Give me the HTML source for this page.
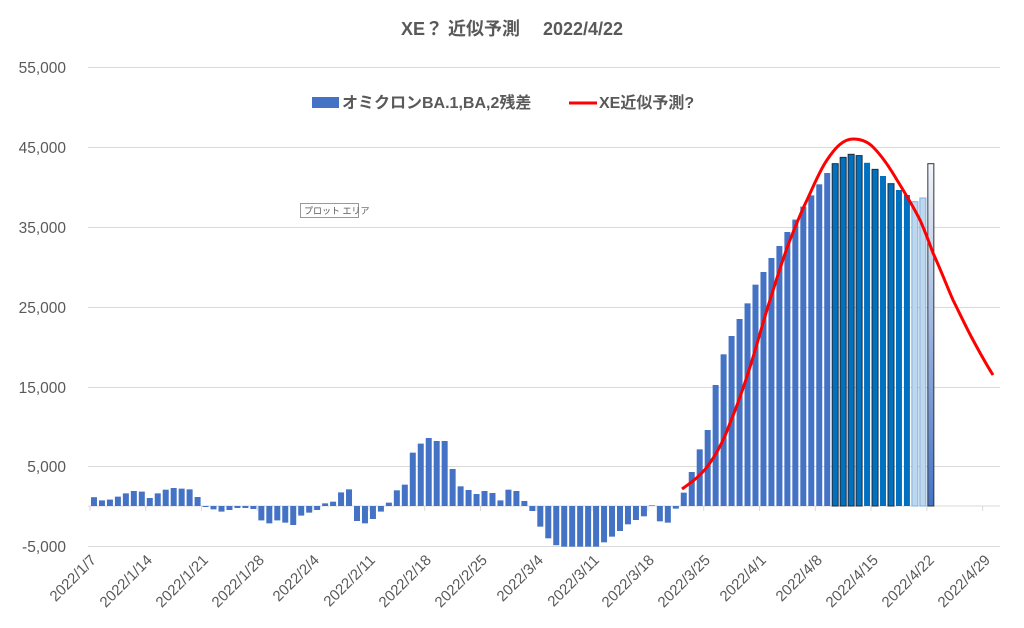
<!DOCTYPE html>
<html><head><meta charset="utf-8"><style>
html,body{margin:0;padding:0;background:#fff;}
svg{display:block;font-family:"Liberation Sans","Noto Sans CJK JP",sans-serif;}
</style></head><body>
<svg id="c" width="1024" height="628" viewBox="0 0 1024 628" xmlns="http://www.w3.org/2000/svg">
<rect width="1024" height="628" fill="#fff"/>
<text x="512" y="35" text-anchor="middle" font-size="18" font-weight="bold" fill="#595959">XE？ 近似予測　 2022/4/22</text>
<g stroke="#d9d9d9" stroke-width="1">
<line x1="88" y1="67.5" x2="1000" y2="67.5"/>
<line x1="88" y1="147.5" x2="1000" y2="147.5"/>
<line x1="88" y1="227.5" x2="1000" y2="227.5"/>
<line x1="88" y1="307.5" x2="1000" y2="307.5"/>
<line x1="88" y1="387.5" x2="1000" y2="387.5"/>
<line x1="88" y1="466.5" x2="1000" y2="466.5"/>
<line x1="88" y1="546.5" x2="1000" y2="546.5"/>
<line x1="88" y1="506" x2="1000" y2="506"/>
</g>
<g font-size="15.5" fill="#595959" text-anchor="end">
<text x="66" y="73">55,000</text>
<text x="66" y="153">45,000</text>
<text x="66" y="233">35,000</text>
<text x="66" y="313">25,000</text>
<text x="66" y="393">15,000</text>
<text x="66" y="472">5,000</text>
<text x="66" y="552">-5,000</text>
</g>
<g id="ticks" stroke="#d9d9d9"></g>
<g id="bars"></g>
<g font-size="15" fill="#595959" text-anchor="end">
<text transform="translate(97,561) rotate(-45)">2022/1/7</text>
<text transform="translate(153,561) rotate(-45)">2022/1/14</text>
<text transform="translate(209,561) rotate(-45)">2022/1/21</text>
<text transform="translate(265,561) rotate(-45)">2022/1/28</text>
<text transform="translate(320,561) rotate(-45)">2022/2/4</text>
<text transform="translate(376,561) rotate(-45)">2022/2/11</text>
<text transform="translate(432,561) rotate(-45)">2022/2/18</text>
<text transform="translate(488,561) rotate(-45)">2022/2/25</text>
<text transform="translate(544,561) rotate(-45)">2022/3/4</text>
<text transform="translate(600,561) rotate(-45)">2022/3/11</text>
<text transform="translate(655,561) rotate(-45)">2022/3/18</text>
<text transform="translate(711,561) rotate(-45)">2022/3/25</text>
<text transform="translate(767,561) rotate(-45)">2022/4/1</text>
<text transform="translate(823,561) rotate(-45)">2022/4/8</text>
<text transform="translate(879,561) rotate(-45)">2022/4/15</text>
<text transform="translate(935,561) rotate(-45)">2022/4/22</text>
<text transform="translate(991,561) rotate(-45)">2022/4/29</text>
</g>
<path d="M682,489 C692,482 700,476 707,467 C716,455 724,440 730,423 C738,404 744,386 750,367 C757,345 763,322 770,300 C777,278 783,258 790,240 C796,225 801,212 807,200 C814,185 820,170 827,160 C835,148 843,139 853,139 C862,139 868,142 873,147 C882,156 890,168 897,180 C905,193 913,206 920,220 C925,231 929,242 933,253 C940,268 946,284 953,300 C960,314 966,327 973,340 C980,353 986,364 993,375" fill="none" stroke="#ff0000" stroke-width="3"/>
<rect x="312" y="97" width="27" height="11" fill="#4472c4"/>
<text x="342" y="108" font-size="16" font-weight="bold" fill="#595959">オミクロンBA.1,BA,2残差</text>
<line x1="569" y1="103" x2="597" y2="103" stroke="#ff0000" stroke-width="3"/>
<text x="599" y="108" font-size="16" font-weight="bold" fill="#595959">XE近似予測?</text>
<rect x="300.5" y="203.5" width="58" height="14" fill="#fff" stroke="#999"/>
<text x="304" y="214" font-size="9" fill="#595959">プロット エリア</text>
<defs><linearGradient id="g" x1="0" y1="0" x2="0" y2="1"><stop offset="0" stop-color="#f2f5fb"/><stop offset="1" stop-color="#4472c4"/></linearGradient></defs>
</svg>
<script>
var v=[1100,700,800,1170,1580,1875,1800,1000,1580,2040,2250,2170,2080,1125,-125,-420,-700,-500,-250,-250,-375,-1800,-2170,-1800,-2080,-2375,-1200,-830,-500,330,540,1700,2080,-1875,-2170,-1625,-700,420,1960,2670,6670,7800,8500,8125,8125,4625,2460,2000,1500,1875,1625,700,2040,1875,625,-625,-2580,-4040,-4900,-5080,-5080,-5080,-5080,-5080,-4540,-3830,-3125,-2290,-1750,-1290,80,-1920,-2080,-330,1670,4250,7080,9500,15125,18960,21250,23375,25330,27670,29250,31000,32500,34250,35800,37420,38830,40210,41625,42790,43580,43960,43800,42900,42080,41250,40290,39500,38875,38040,38500,42790];
var ns="http://www.w3.org/2000/svg",b=document.getElementById("bars"),t=document.getElementById("ticks");
for(var k=0;k<=16;k++){var l=document.createElementNS(ns,"line");var x=90+k*7*7.97;l.setAttribute("x1",x);l.setAttribute("x2",x);l.setAttribute("y1",506);l.setAttribute("y2",511);t.appendChild(l);}
var off=106-v.length;
for(var i=0;i<v.length;i++){var idx=i+off;var cx=90+7.97*(idx+0.5);var h=v[i]/125;var r=document.createElementNS(ns,"rect");
r.setAttribute("x",cx-3);r.setAttribute("width",6);r.setAttribute("y",h>0?506-h:506);r.setAttribute("height",Math.abs(h));
var f="#4472c4",s="none";
if(idx>=93&&idx<=102){f="#0070c0";if(idx<=96||idx==98||idx==100)s="#1f2d3d";}
if(idx==103||idx==104){f="#bdd7ee";s="#7fb0dd";}
if(idx==105){f="url(#g)";s="#333";}
r.setAttribute("fill",f);if(s!="none"){r.setAttribute("stroke",s);r.setAttribute("stroke-width","1");}
b.appendChild(r);}
</script>
</body></html>
